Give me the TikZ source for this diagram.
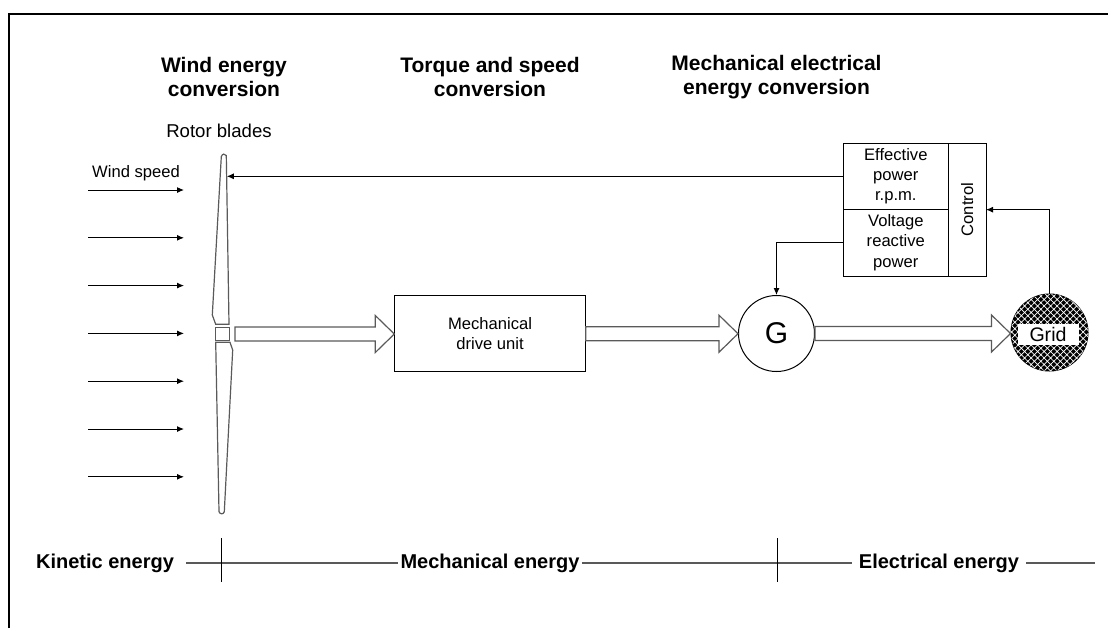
\documentclass[tikz,border=0pt]{standalone}
\usepackage{fontspec}
\setmainfont{Liberation Sans}
\usepackage{tikz}
\usetikzlibrary{arrows.meta,positioning,calc,patterns.meta}
\definecolor{bladegray}{RGB}{90,90,90}

\tikzset{
  headtext/.style={align=center, font=\fontsize{10.5}{12}\selectfont\bfseries},
  energytext/.style={font=\fontsize{10}{12}\selectfont\bfseries, inner sep=1pt},
  plaintext/.style={align=center, font=\fontsize{8.3}{10.1}\selectfont},
  unitbox/.style={draw, line width=0.5pt, align=center, inner sep=0pt, outer sep=0pt, font=\fontsize{8.3}{10.1}\selectfont},
  sigline/.style={line width=0.5pt, -{Latex[length=3.5pt,width=3pt]}},
  blockarrow/.style={draw=bladegray, line width=0.6pt, fill=white, line join=miter},
  bladeshape/.style={draw=bladegray, line width=0.6pt, fill=white},
  axisline/.style={draw=black!65, line width=0.6pt},
  gridcircle/.style={circle, draw=black, fill=black, inner sep=0pt, line width=0.5pt,
    postaction={pattern={Hatch[angle=45,distance=2.3pt,line width=0.35pt]}, pattern color=white}},
}

% hollow block arrow between two anchors
\newcommand{\fatarrow}[3][0pt]{%
  \path[blockarrow] let \p1=($(#2)+(#1,0)$), \p2=(#3) in
    (\x1,\y1+3.5pt) -- (\x2-9.5pt,\y1+3.5pt) -- (\x2-9.5pt,\y1+9.25pt) -- (\x2,\y1)
    -- (\x2-9.5pt,\y1-9.25pt) -- (\x2-9.5pt,\y1-3.5pt) -- (\x1,\y1-3.5pt) -- cycle;}

\begin{document}
\begin{tikzpicture}[x=0.5pt,y=-0.5pt]
\useasboundingbox (0,0) rectangle (1108,628);
\draw[line width=1pt] (9,628) -- (9,14) -- (1108,14);

% headings
\node[headtext] (windhead) at (224,77) {Wind energy\\conversion};
\node[headtext] (torquehead) at (490,77) {Torque and speed\\conversion};
\node[headtext] (elechead) at (776.5,77) {Mechanical electrical\\energy conversion};
\node[plaintext, font=\fontsize{9.3}{11}\selectfont] (rotorlabel) at (219,131) {Rotor blades};
\node[plaintext] (windlabel) at (136,173) {Wind speed};

% wind
\foreach \i in {0,...,6}{
  \coordinate (ws\i) at (88,190+47.8*\i);
  \coordinate (we\i) at (184,190+47.8*\i);
  \draw[sigline] (ws\i) -- (we\i);
}

% rotor
\path[bladeshape] (221.3,156.7) .. controls (222,153.5) and (225.5,153.5) .. (226.3,155.5)
  -- (229,324.3) -- (215.7,324.3) -- (212.3,315) -- cycle;
\path[bladeshape] (215.7,342.3) -- (230,342.3) -- (232.7,350) -- (224.3,511.7)
  .. controls (223.5,514.5) and (220,514.5) .. (219,511.7) -- cycle;
\node[draw=bladegray, line width=0.6pt, minimum width=6.8pt, minimum height=6.2pt, inner sep=0pt] (hub) at (222.5,334) {};
\coordinate (bladeedge) at (226.8,176.3);

% drive train
\node[unitbox, minimum width=95.7pt, minimum height=38pt] (drive) at (490,333.7) {Mechanical\\drive unit};
\node[draw, circle, line width=0.5pt, minimum size=38pt, inner sep=0pt, font=\fontsize{15}{15}\selectfont] (gen) at (776.5,333.5) {G};
\node[gridcircle, minimum size=38.5pt] (grid) at (1049.5,332.5) {};
\node[fill=white, minimum width=30.5pt, minimum height=10.3pt, inner sep=0pt, font=\fontsize{9.8}{10}\selectfont] (gridlabel) at (1048,334.5) {Grid};

\fatarrow[2.5pt]{hub.east}{drive.west}
\fatarrow{drive.east}{gen.west}
\fatarrow{gen.east}{grid.west}

% control
\node[unitbox, minimum width=52.5pt, minimum height=33pt] (eff) at (895.8,176.3) {Effective\\power\\r.p.m.};
\node[unitbox, minimum width=52.5pt, minimum height=33.35pt, below=0pt of eff] (volt) {Voltage\\reactive\\power};
\node[unitbox, minimum width=18.85pt, minimum height=66.35pt, anchor=north west] (ctrl) at (eff.north east) {\rotatebox{90}{Control}};

\draw[sigline] (eff.west) -- (bladeedge);
\draw[sigline] (volt.west) -| (gen.north);
\draw[sigline] (grid.north) |- (ctrl.east);

% energy forms
\node[energytext] (kinetic) at (105,563) {Kinetic energy};
\node[energytext] (mechenergy) at (490,563) {Mechanical energy};
\node[energytext] (elecenergy) at (939,563) {Electrical energy};
\coordinate (axisend) at (1095,563);
\draw[axisline] ([xshift=5pt]kinetic.east) -- (mechenergy.west);
\draw[axisline] (mechenergy.east) -- ([xshift=-2.5pt]elecenergy.west);
\draw[axisline] ([xshift=2.5pt]elecenergy.east) -- (axisend);
\draw[line width=0.5pt] (221,538) -- (221,582);
\draw[line width=0.5pt] (777,538) -- (777,582);
\end{tikzpicture}
\end{document}
